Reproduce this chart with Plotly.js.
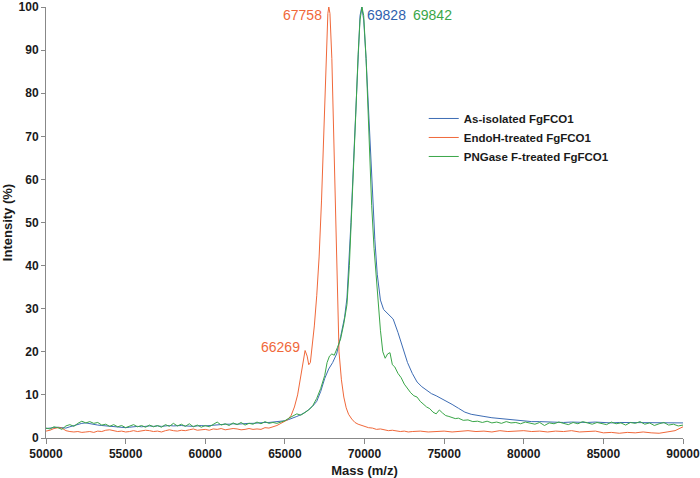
<!DOCTYPE html>
<html>
<head>
<meta charset="utf-8">
<script src="https://cdn.plot.ly/plotly-3.0.1.min.js"></script>
<style>
  body { margin: 0; background: #fff; }
  #chart { width: 700px; height: 478px; }
</style>
</head>
<body>
<div id="chart"></div>
<script>
// EndoH-treated (orange)
var endoMass = [50000,50250,50500,50750,51000,51250,51500,51750,52000,52250,52500,52750,53000,53250,53500,53750,54000,54250,54500,54750,
  55000,55250,55500,55750,56000,56250,56500,56750,57000,57250,57500,57750,58000,58250,58500,58750,59000,59250,59500,59750,
  60000,60250,60500,60750,61000,61250,61500,61750,62000,62250,62500,62750,63000,63250,63500,63750,64000,64250,64500,64750,
  65000,65200,65400,65600,65800,66000,66150,66269,66400,66500,66600,66700,66850,67000,67150,67300,67450,67600,67700,67758,
  67830,67950,68100,68200,68300,68400,68550,68700,68850,69000,69200,69400,69600,69800,70000,70250,70500,70750,71000,71250,
  71500,71750,72000,72250,72500,72750,73000,73500,74000,74500,75000,75500,76000,76500,77000,77500,78000,78500,79000,79500,
  80000,80500,81000,81500,82000,82500,83000,83500,84000,84500,85000,85500,86000,86500,87000,87500,88000,88500,89000,89500,90000];
var endoInt = [1.6,1.8,2.2,2.4,2.3,1.7,1.5,1.4,1.5,1.3,1.4,1.5,1.3,1.6,1.5,1.8,1.9,1.7,1.5,1.6,
  1.4,1.5,1.7,1.5,1.6,1.8,1.7,1.5,1.6,1.4,1.7,1.9,1.7,1.6,1.8,1.7,1.9,2.1,1.8,1.9,
  2.0,1.8,2.1,2.0,2.2,1.9,2.0,2.2,2.1,1.9,2.0,2.2,2.0,2.1,2.0,2.4,2.3,2.6,2.9,3.4,
  3.8,4.3,5.3,7.2,10.0,14.0,17.0,20.3,19.0,17.0,17.5,20.5,26,33,42,55,72,90,98.5,100,
  98.5,88,65,45,30,20,13.5,9.5,7,5.5,4.4,3.6,3.2,2.9,2.6,2.4,2.3,2.0,2.1,1.9,
  1.7,1.8,1.6,1.5,1.6,1.4,1.5,1.6,1.4,1.5,1.6,1.4,1.5,1.7,1.5,1.6,1.4,1.7,1.5,1.6,
  1.7,1.5,1.6,1.4,1.6,1.5,1.7,1.4,1.5,1.6,1.2,1.3,1.1,1.3,1.2,1.4,1.2,1.1,1.4,1.7,2.6];

// As-isolated (blue)
var asMass = [50000,50250,50500,50750,51000,51250,51500,51750,52000,52250,52500,52750,53000,53250,53500,53750,54000,54250,54500,54750,
  55000,55250,55500,55750,56000,56250,56500,56750,57000,57250,57500,57750,58000,58250,58500,58750,59000,59250,59500,59750,
  60000,60250,60500,60750,61000,61250,61500,61750,62000,62250,62500,62750,63000,63250,63500,63750,64000,64250,64500,64750,
  65000,65250,65500,65750,66000,66250,66500,66750,67000,67250,67500,67750,68000,68250,68500,68750,68900,69050,69150,69300,
  69450,69600,69720,69828,69950,70100,70300,70500,70650,70800,71000,71200,71500,71800,72100,72400,72700,73000,73300,73600,
  73900,74200,74500,74800,75100,75500,75900,76300,76700,77100,77500,78000,78500,79000,79500,80000,80500,81000,81500,82000,
  82500,83000,83500,84000,84500,85000,85500,86000,86500,87000,87500,88000,88500,89000,89500,90000];
var asInt = [2.2,2.3,2.4,2.5,2.4,2.3,2.6,2.9,3.1,3.4,3.5,3.3,3.2,3.0,2.9,2.8,2.8,2.7,2.6,2.5,
  2.4,2.5,2.6,2.7,2.6,2.7,2.8,2.7,2.8,2.7,2.8,2.9,2.8,2.9,2.9,2.8,2.7,2.7,2.8,2.9,
  2.8,2.9,3.0,3.1,3.1,3.2,3.2,3.3,3.2,3.3,3.3,3.4,3.4,3.5,3.5,3.6,3.6,3.7,3.8,3.9,
  4.0,4.3,4.6,5.0,5.4,5.9,6.6,7.4,8.5,10.8,13.8,16,17.5,19.5,23.5,28,32.5,42,50,63,
  77,90,98,100,97,88,72,56,46,38,32,29.8,28.8,27.6,24.5,21,17.5,15,13,11.9,
  11,10.3,9.8,9.2,8.7,7.8,6.9,6.0,5.5,5.2,5.0,4.7,4.5,4.3,4.1,3.9,3.8,3.8,3.7,3.7,
  3.6,3.7,3.6,3.6,3.7,3.6,3.5,3.6,3.6,3.5,3.6,3.5,3.6,3.5,3.5,3.5];

// PNGase F-treated (green)
var pngMass = [50000,50250,50500,50750,51000,51250,51500,51750,52000,52250,52500,52750,53000,53250,53500,53750,54000,54250,54500,54750,
  55000,55250,55500,55750,56000,56250,56500,56750,57000,57250,57500,57750,58000,58250,58500,58750,59000,59250,59500,59750,
  60000,60250,60500,60750,61000,61250,61500,61750,62000,62250,62500,62750,63000,63250,63500,63750,64000,64250,64500,64750,
  65000,65250,65500,65750,66000,66250,66500,66750,67000,67250,67500,67650,67800,67950,68100,68300,68500,68700,68900,69050,
  69150,69300,69450,69600,69720,69842,69950,70100,70300,70450,70600,70800,71000,71150,71300,71450,71600,71750,71900,72100,
  72300,72500,72700,72900,73100,73300,73500,73700,73900,74100,74300,74500,74700,74900,75100,75300,75500,75700,75900,76200,
  76500,76800,77100,77400,77700,78000,78300,78600,78900,79200,79500,79800,80100,80400,80700,81000,81300,81600,81900,82200,
  82500,82800,83100,83400,83700,84000,84300,84600,84900,85200,85500,85800,86100,86400,86700,87000,87300,87600,87900,88200,
  88500,88800,89100,89400,89700,90000];
var pngInt = [2.3,2.1,2.6,2.4,2.0,2.8,3.1,2.7,3.4,3.9,3.5,3.8,3.4,3.6,3.0,3.2,2.7,3.1,2.6,2.9,
  2.4,2.7,3.1,2.6,2.9,2.5,3.0,2.6,2.9,2.5,3.1,2.7,3.4,2.8,3.2,2.7,3.3,2.6,3.0,2.5,
  2.9,2.6,3.1,3.7,3.0,3.3,2.9,3.5,3.1,3.6,3.0,3.4,3.2,3.7,3.3,3.8,3.4,3.6,3.4,3.7,
  4.0,4.6,5.1,5.6,5.3,5.9,6.5,7.5,9.2,11.5,14.5,17.5,19,19.5,19.2,21,23,26.5,31,40,
  48,61,75,89,97,100,98,88,68,54,44,34,25,20,18.5,19.5,19.8,17,16.5,15,
  14,12.5,11.5,10.5,9.8,9.5,8.5,7.8,7.2,6.8,6.0,5.6,6.5,5.8,5.2,5.0,4.8,4.5,4.6,4.1,
  4.2,3.8,3.9,3.6,3.9,3.5,3.7,3.4,3.8,3.5,3.6,3.3,3.7,3.4,3.2,3.6,2.9,3.5,3.3,3.7,
  3.4,3.1,3.6,3.3,3.8,3.5,3.2,3.6,3.4,3.1,3.7,3.3,3.5,3.0,3.6,3.4,3.8,3.2,3.5,2.9,
  3.3,3.6,3.0,3.2,2.8,3.0];

var peakMass = [67758, 66269, 69828, 69842];
var peakInt = [100, 20.3, 100, 100];
var peakLabels = ['67758', '66269', '69828', '69842'];

var xTicks = [50000, 55000, 60000, 65000, 70000, 75000, 80000, 85000, 90000];
var yTicks = [0, 10, 20, 30, 40, 50, 60, 70, 80, 90, 100];

var blue = '#3d6cb4';
var orange = '#f0683a';
var green = '#3aa648';

var data = [
  { x: asMass, y: asInt, type: 'scatter', mode: 'lines', name: 'As-isolated FgFCO1', line: { color: blue, width: 1 } },
  { x: endoMass, y: endoInt, type: 'scatter', mode: 'lines', name: 'EndoH-treated FgFCO1', line: { color: orange, width: 1 } },
  { x: pngMass, y: pngInt, type: 'scatter', mode: 'lines', name: 'PNGase F-treated FgFCO1', line: { color: green, width: 1 } }
];

var labelFont = { family: 'Liberation Sans, Arial, sans-serif', size: 14 };
var annotations = [
  { x: peakMass[0], y: peakInt[0], text: peakLabels[0], xanchor: 'right', yanchor: 'top', xshift: -5, yshift: 2, font: Object.assign({ color: orange }, labelFont) },
  { x: peakMass[1], y: peakInt[1], text: peakLabels[1], xanchor: 'right', yanchor: 'middle', xshift: -3, yshift: 4, font: Object.assign({ color: orange }, labelFont) },
  { x: peakMass[2], y: peakInt[2], text: peakLabels[2], xanchor: 'left', yanchor: 'top', xshift: 3, yshift: 2, font: Object.assign({ color: '#2f62ae' }, labelFont) },
  { x: peakMass[3], y: peakInt[3], text: peakLabels[3], xanchor: 'left', yanchor: 'top', xshift: 49, yshift: 2, font: Object.assign({ color: green }, labelFont) }
];
annotations.forEach(function (a) { a.xref = 'x'; a.yref = 'y'; a.showarrow = false; });

var layout = {
  width: 700,
  height: 478,
  margin: { l: 46, r: 17, t: 7, b: 40 },
  paper_bgcolor: '#fff',
  plot_bgcolor: '#fff',
  font: { family: 'Liberation Sans, Arial, sans-serif', color: '#1a1a1a' },
  showlegend: true,
  legend: {
    x: 0.593, y: 0.775, xanchor: 'left', yanchor: 'top',
    font: { size: 11.5, weight: 'bold', color: '#1a1a1a' },
    bgcolor: 'rgba(0,0,0,0)'
  },
  xaxis: {
    range: [50000, 90000],
    tickvals: xTicks,
    ticktext: xTicks.map(String),
    ticklabeloverflow: 'allow',
    ticks: 'outside', ticklen: 5, tickcolor: '#888',
    showline: true, linecolor: '#888', linewidth: 1,
    showgrid: false, zeroline: false,
    tickfont: { size: 12, weight: 'bold' },
    title: { text: 'Mass (m/z)', font: { size: 13, weight: 'bold' }, standoff: 6 }
  },
  yaxis: {
    range: [0, 100],
    tickvals: yTicks,
    ticktext: yTicks.map(String),
    ticklabeloverflow: 'allow',
    ticks: 'outside', ticklen: 4, tickcolor: '#888',
    showline: true, linecolor: '#888', linewidth: 1,
    showgrid: false, zeroline: false,
    tickfont: { size: 12, weight: 'bold' },
    title: { text: 'Intensity (%)', font: { size: 13, weight: 'bold' }, standoff: 8 }
  },
  annotations: annotations
};

Plotly.newPlot('chart', data, layout, { displayModeBar: false });
</script>
</body>
</html>
